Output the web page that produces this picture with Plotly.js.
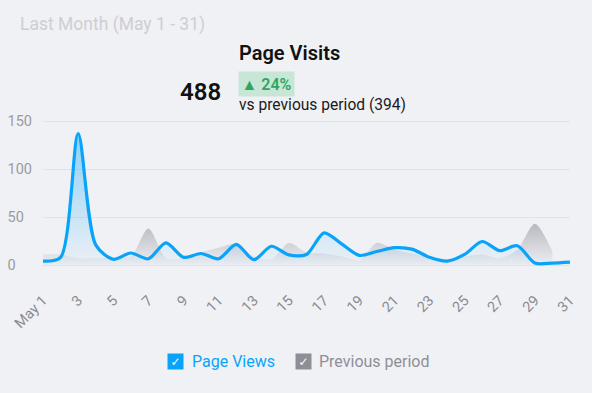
<!DOCTYPE html>
<html>
<head>
<meta charset="utf-8">
<script src="https://cdn.plot.ly/plotly-3.0.1.min.js"></script>
<style>
  html, body { margin: 0; padding: 0; background: #f0f1f5; }
  #chart { width: 592px; height: 393px; }
</style>
</head>
<body>
<div id="chart"></div>
<script>
// ---- data ----
const days = [1,2,3,4,5,6,7,8,9,10,11,12,13,14,15,16,17,18,19,20,21,22,23,24,25,26,27,28,29,30,31];
const pageViews = [4,8,137,21,6,12.5,6.5,23,8,12,6.5,21.5,5.5,19.5,10.5,11,33.5,22,10,14,18,16.5,8,4,11,24.5,15,20,2,2,3];
const prevDays = [1,2,3,4,5,6,7,8,9,10,11,12,13,14,15,16,17,18,19,20,21,22,23,24,25,26,27,28,29,30];
const previousPeriod = [11,11,7,7,7,9,38,7,7,13,18,22,9,6,23,13,12,9,5,23,16,12,8,6,9,11,7,16,43,14];
const xTickVals = [1,3,5,7,9,11,13,15,17,19,21,23,25,27,29,31];
const xTickText = ['May 1','3','5','7','9','11','13','15','17','19','21','23','25','27','29','31'];
const yTickVals = [0,50,100,150];
const yTickText = ['0\u2007\u2007','50\u2007','100','150'];
const totalVisits = '488';
const changeText = '\u25B2 24%';
const compareText = 'vs previous period (394)';
const seriesNames = ['Page Views','Previous period'];

const BLUE = '#09a4f9';
const GRAY = '#8e8f96';
const FONT = 'Roboto, "Noto Sans", sans-serif';

// plot area px geometry helpers (margins)
const M = {l: 43, r: 22, t: 119, b: 126};
const W = 592, H = 393;
const PW = W - M.l - M.r, PH = H - M.t - M.b;
const px = x => (x - M.l) / PW;
const py = y => (H - M.b - y) / PH;

const traces = [
  {
    x: prevDays, y: previousPeriod, name: seriesNames[1],
    type: 'scatter', mode: 'lines',
    line: {shape: 'spline', smoothing: 0.8, width: 0, color: 'rgba(0,0,0,0)'},
    fill: 'tozeroy',
    fillgradient: {type: 'vertical', start: 0, stop: 43,
      colorscale: [[0, 'rgba(140,141,150,0.03)'], [1, 'rgba(140,141,150,0.55)']]},
    hoverinfo: 'skip', showlegend: false
  },
  {
    x: days, y: pageViews, name: seriesNames[0],
    type: 'scatter', mode: 'lines',
    line: {shape: 'spline', smoothing: 0.8, width: 3.2, color: BLUE},
    fill: 'tozeroy',
    fillgradient: {type: 'vertical', start: 0, stop: 137,
      colorscale: [[0, 'rgba(9,164,249,0.02)'], [1, 'rgba(9,164,249,0.42)']]},
    hoverinfo: 'skip', showlegend: false
  }
];

const layout = {
  width: W, height: H,
  margin: M,
  paper_bgcolor: '#f0f1f5', plot_bgcolor: 'rgba(0,0,0,0)',
  font: {family: FONT},
  showlegend: false,
  title: {
    text: 'Last Month (May 1 - 31)',
    font: {family: FONT, size: 17.5, color: '#cdced3', weight: 400},
    xref: 'container', yref: 'container',
    x: 20 / W, xanchor: 'left', y: 1 - 24 / H, yanchor: 'middle'
  },
  xaxis: {
    range: [1, 31], tickmode: 'array', tickvals: xTickVals, ticktext: xTickText,
    tickangle: -45, showgrid: false, zeroline: false, showline: false, ticks: '',
    ticklabelstandoff: 21,
    tickfont: {family: FONT, size: 14.5, color: '#8a8b91'}
  },
  yaxis: {
    range: [-2.08, 152.1], tickmode: 'array', tickvals: yTickVals, ticktext: yTickText,
    showgrid: true, gridcolor: '#e2e3e8', gridwidth: 1, zeroline: false, showline: false,
    ticks: '', ticklabelstandoff: 10,
    tickfont: {family: FONT, size: 14.5, color: '#9a9ba0'}
  },
  annotations: [
    {text: 'Page Visits', xref: 'paper', yref: 'paper', x: px(237), y: py(53),
     xanchor: 'left', yanchor: 'middle', showarrow: false,
     font: {family: FONT, size: 20, color: '#111111', weight: 600}},
    {text: totalVisits, xref: 'paper', yref: 'paper', x: px(223), y: py(92),
     xanchor: 'right', yanchor: 'middle', showarrow: false,
     font: {family: FONT, size: 24, color: '#111111', weight: 600}},
    {text: changeText, xref: 'paper', yref: 'paper', x: px(238), y: py(84),
     xanchor: 'left', yanchor: 'middle', showarrow: false,
     bgcolor: '#c8e6d6', borderpad: 2.5,
     font: {family: FONT, size: 16, color: '#2ea660', weight: 600}},
    {text: compareText, xref: 'paper', yref: 'paper', x: px(237), y: py(105),
     xanchor: 'left', yanchor: 'middle', showarrow: false,
     font: {family: FONT, size: 15.6, color: '#1a1a1a'}},
    // legend
    {text: '\u2713', xref: 'paper', yref: 'paper', x: px(175.5), y: py(361),
     xanchor: 'center', yanchor: 'middle', showarrow: false,
     bgcolor: BLUE, width: 15, height: 15, borderpad: 0,
     font: {family: 'DejaVu Sans', size: 12, color: '#ffffff'}},
    {text: seriesNames[0], xref: 'paper', yref: 'paper', x: px(190), y: py(361),
     xanchor: 'left', yanchor: 'middle', showarrow: false,
     font: {family: FONT, size: 16, color: BLUE}},
    {text: '\u2713', xref: 'paper', yref: 'paper', x: px(303), y: py(361),
     xanchor: 'center', yanchor: 'middle', showarrow: false,
     bgcolor: GRAY, width: 15, height: 15, borderpad: 0,
     font: {family: 'DejaVu Sans', size: 12, color: '#ffffff'}},
    {text: seriesNames[1], xref: 'paper', yref: 'paper', x: px(317), y: py(361),
     xanchor: 'left', yanchor: 'middle', showarrow: false,
     font: {family: FONT, size: 16, color: GRAY}}
  ]
};

Plotly.newPlot('chart', traces, layout, {displayModeBar: false, staticPlot: true});
</script>
</body>
</html>
